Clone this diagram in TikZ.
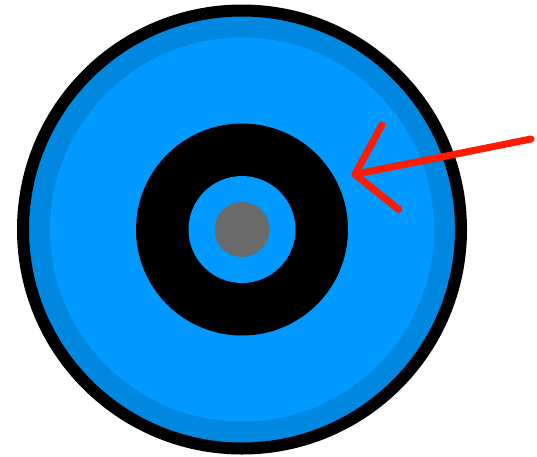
\documentclass[tikz,border=0pt]{standalone}
\usepackage{tikz}
\usetikzlibrary{arrows.meta, positioning}
\usepackage{xcolor}
\definecolor{discblue}{RGB}{0,153,255}
\definecolor{rimblue}{RGB}{0,136,225}
\definecolor{pingray}{RGB}{107,107,107}
\definecolor{arrred}{RGB}{255,26,0}

\begin{document}
\begin{tikzpicture}[
  x=1pt, y=-1pt,
  disc/.style={circle, inner sep=0pt, outer sep=0pt},
  arr/.style={-{Straight Barb[length=36pt, width=86pt, round]}, line width=7pt,
              line cap=round, draw=arrred}
]
\useasboundingbox (0,0) rectangle (537,456);

% the disc, from the rim inwards
\node[disc, draw=black, line width=12pt, fill=rimblue, minimum size=438pt] (rim) at (242,229.5) {};
\node[disc, fill=discblue, minimum size=384pt] (face) at (rim.center) {};
\node[disc, fill=black, minimum size=212pt] (hub) at (rim.center) {};
\node[disc, fill=discblue, minimum size=107pt] (hole) at (rim.center) {};
\node[disc, fill=pingray, minimum size=55pt] (pin) at (rim.center) {};

% pointer
\coordinate (tail) at (531,139);
\coordinate (tip) at (351.5,175);
\draw[arr] (tail) -- (tip);

\end{tikzpicture}
\end{document}
